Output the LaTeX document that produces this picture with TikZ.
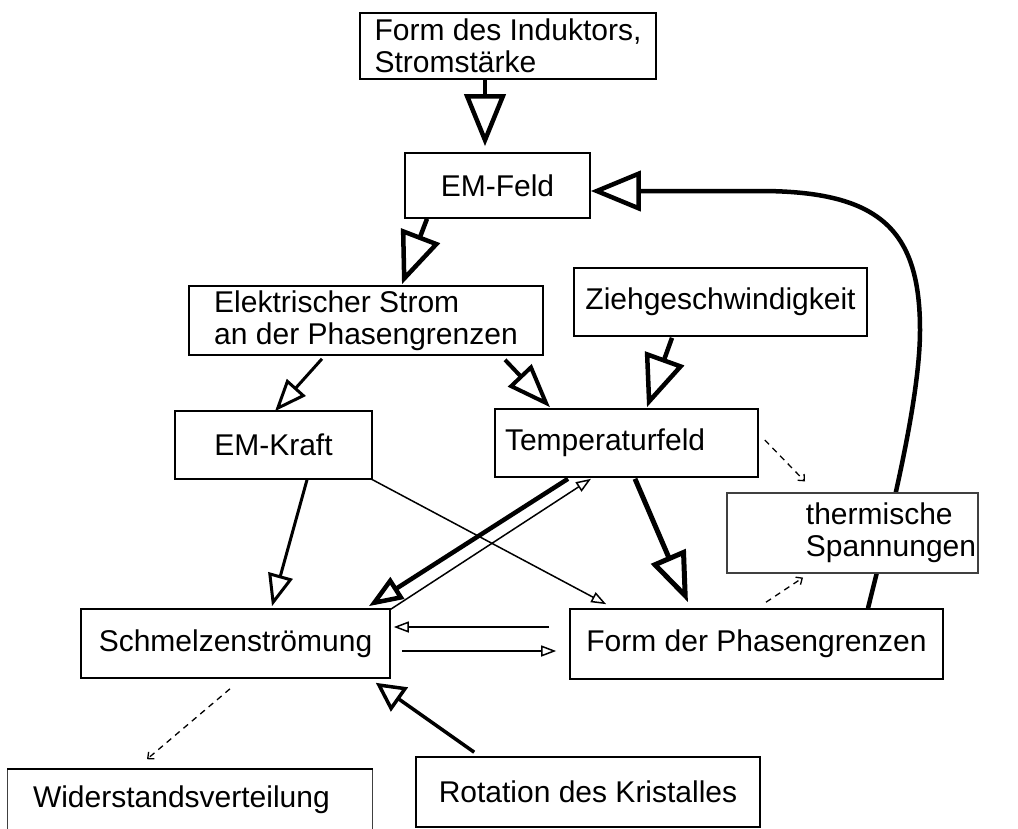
\documentclass[tikz,border=0pt]{standalone}
\usepackage{fontspec}
\setmainfont{Liberation Sans}
\usetikzlibrary{arrows.meta,calc}
\begin{document}
\begin{tikzpicture}[x=1pt,y=-1pt,
  box/.style={draw=black, line width=1.6pt, fill=white, inner sep=0pt,
              font=\fontsize{30}{32}\selectfont},
  lightbox/.style={box, draw=black!75, line width=1.2pt},
  bigA/.style={line width=4.5pt, -{Triangle[open,length=52pt,width=41pt]}},
  midA/.style={line width=4pt, -{Triangle[open,length=44pt,width=32pt]}},
  thkA/.style={line width=4.5pt, -{Triangle[open,length=34pt,width=25pt]}},
  medA/.style={line width=3pt, -{Triangle[open,length=32pt,width=25pt]}},
  rotA/.style={line width=3.5pt, -{Triangle[open,length=29pt,width=29pt]}},
  thinA/.style={line width=1.5pt, -{Triangle[open,length=15pt,width=11pt]}},
  dsh/.style={line width=1.3pt, dash pattern=on 6pt off 5pt,
              -{Straight Barb[length=5pt,width=9pt]}}
]
\useasboundingbox (0,0) rectangle (1018,828);

% nodes
\node[box, minimum width=296pt, minimum height=66pt, align=left] (ind) at (508,46)
  {Form des Induktors,\\Stromstärke};
\node[box, minimum width=185pt, minimum height=65pt] (emf) at (497.5,185.5) {EM-Feld};
\node[box, minimum width=354pt, minimum height=69pt, align=left] (es) at (366,320.5)
  {Elektrischer Strom\\an der Phasengrenzen};
\node[box, minimum width=293pt, minimum height=68pt] (zieh) at (720.5,302) {Ziehgeschwindigkeit};
\node[box, minimum width=197pt, minimum height=68pt] (emk) at (273.5,445) {EM-Kraft};
\node[box, inner xsep=10pt, text width=243pt, align=left, minimum height=68pt] (temp) at (626.5,443) {Temperaturfeld};
\node[box, minimum width=373pt, minimum height=70pt] (fp) at (756.5,644) {Form der Phasengrenzen};
\node[box, minimum width=309pt, minimum height=69pt] (sm) at (235.5,643.5) {Schmelzenströmung};
\node[box, draw=none, inner xsep=25pt, text width=314pt, align=left, minimum height=60pt] (wv) at (190,800) {Widerstandsverteilung};
\draw[line width=1.2pt, black!75] (wv.south west) -- (wv.north west) -- (wv.north east) -- (wv.south east);
\draw[line width=1.6pt] (wv.north west) -- (wv.north east);
\node[box, minimum width=344pt, minimum height=70pt] (rot) at (588,792) {Rotation des Kristalles};

% feedback curve (behind thermische Spannungen)
\draw[line width=4.5pt, -{Triangle[open,length=50pt,width=40pt]}]
  ($(fp.north)+(111.5,0)$) .. controls (890,520) and (920,400) .. (920,330)
  .. controls (920,230) and (880,191) .. (760,191) -- ($(emf.east)+(0,5.5)$);

\node[lightbox, minimum width=251pt, minimum height=80pt, align=left] (ts) at (852.5,533)
  {\hspace*{77pt}thermische\\\hspace*{77pt}Spannungen};

% connectors
\draw[bigA] ($(ind.south)+(-23,0)$) -- ($(emf.north)+(-12.5,-6)$);
\draw[bigA] ($(emf.south)+(-70.5,0)$) -- ($(es.north)+(36,-1)$);
\draw[medA] ($(es.south)+(-44,3)$) -- ($(emk.north)+(1.5,1)$);
\draw[midA] ($(es.south)+(139,4)$) -- ($(temp.north)+(-76.5,-1)$);
\draw[bigA] ($(zieh.south)+(-48.5,1)$) -- ($(temp.north)+(20.5,-1)$);
\draw[medA] ($(emk.south)+(33.5,0)$) -- ($(sm.north)+(36.5,-2)$);
\draw[thinA] ($(emk.south east)+(-2,-1)$) -- ($(fp.north west)+(37,-4)$);
\draw[thkA] ($(temp.south)+(-58.5,1)$) -- ($(sm.north east)+(-22,-2)$);
\draw[thinA] ($(sm.north east)+(0,1)$) -- ($(temp.south)+(-35.5,1)$);
\draw[line width=5pt, -{Triangle[open,length=50pt,width=37pt]}] ($(temp.south)+(8.5,1)$) -- ($(fp.north)+(-68.5,-6)$);
\draw[thinA] ($(fp.west)+(-20,-17)$) -- ($(sm.east)+(3,-16.5)$);
\draw[thinA] ($(sm.east)+(11,7.5)$) -- ($(fp.west)+(-13,7)$);
\draw[rotA] ($(rot.north west)+(59,-4)$) -- ($(sm.south east)+(-15,4)$);
\draw[dsh] ($(temp.east)+(6,-3)$) -- ($(ts.north)+(-47.5,-11)$);
\draw[dsh] ($(fp.north)+(9.5,-6)$) -- ($(ts.south)+(-49.5,4)$);
\draw[dsh] ($(sm.south)+(-5.5,10)$) -- ($(wv.north)+(-43,-10)$);
\end{tikzpicture}
\end{document}
